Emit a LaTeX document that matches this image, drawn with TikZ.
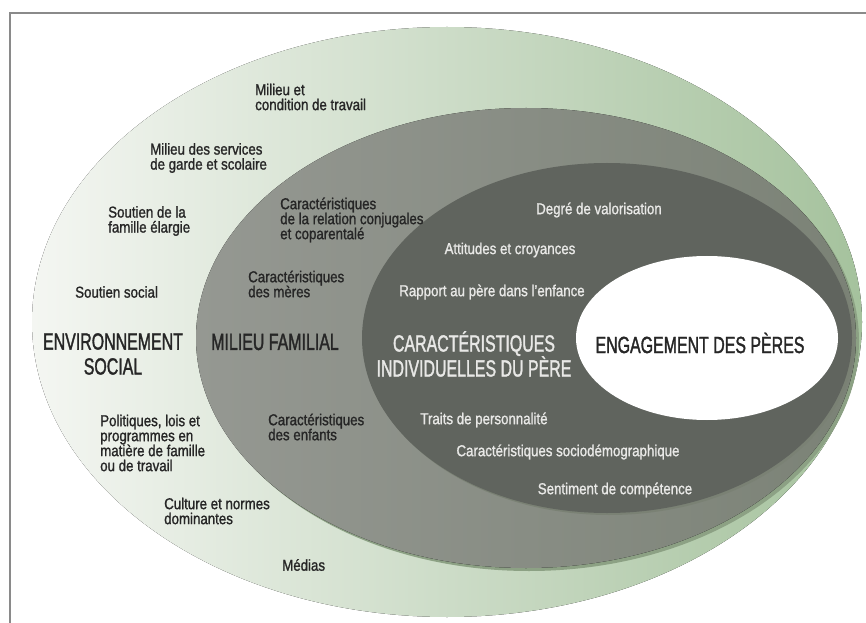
\documentclass[tikz,border=0pt]{standalone}
\usepackage{fontspec}
\setmainfont{Liberation Sans}[FakeStretch=0.84, FakeBold=1.2]
\newfontfamily\headfont{Liberation Sans}[FakeStretch=0.68, FakeBold=1.4]
\usetikzlibrary{positioning}
\definecolor{outerL}{HTML}{F4F6F2}
\definecolor{outerM}{HTML}{E0E9DC}
\definecolor{outerR}{HTML}{A5C29D}
\definecolor{midL}{HTML}{959892}
\definecolor{midR}{HTML}{7B8276}
\definecolor{midLip}{HTML}{8CA184}
\definecolor{darkFill}{HTML}{60645E}
\definecolor{darkLip}{HTML}{7A8174}
\definecolor{txtDark}{HTML}{262626}
\definecolor{txtLight}{HTML}{E8E8E6}
\definecolor{frameGray}{HTML}{8A8A8A}

\begin{document}
\begin{tikzpicture}[
		x=0.03cm, y=-0.03cm,
		lbl/.style = {align=left, anchor=west, inner sep=0pt, text=txtDark,% small dark labels
			font=\fontsize{13.5}{12.8}\selectfont},
		wlbl/.style = {inner sep=0pt, text=txtLight,% small labels on the dark ring
			font=\fontsize{13.5}{12.8}\selectfont},
		head/.style = {align=center, inner sep=0pt,% titles of the rings
			font=\headfont\fontsize{20}{21.3}\selectfont},
		]
		\useasboundingbox (0,0) rectangle (866,623);
		\draw[frameGray, line width=1.2pt] (10,623) -- (10,13) -- (866,13);
		% rings
		\fill[left color=outerL, middle color=outerM, right color=outerR] (447,322) ellipse (415 and 295);
		\fill[midLip] (529,341) ellipse (330 and 230);
		\fill[left color=midL, right color=midR] (526,338) ellipse (330 and 230);
		\fill[darkLip] (609,340) ellipse (245 and 175);
		\fill[darkFill] (607,338) ellipse (245 and 175);
		\fill[white] (707,338) ellipse (131 and 82);
		% titles
		\node[head, text=txtDark] (envSocial) at (113,354) {ENVIRONNEMENT\\SOCIAL};
		\node[head, text=txtDark] (milFamilial) at (275,342) {MILIEU FAMILIAL};
		\node[head, text=txtLight] (caracPere) at (474,354) {CARACTÉRISTIQUES\\INDIVIDUELLES DU PÈRE};
		\node[head, text=txtDark] (engagement) at (700,343) {ENGAGEMENT DES PÈRES};
		% environnement social
		\node[lbl] (travail) at (255,97) {Milieu et\\condition de travail};
		\node[lbl] (garde) at (150,158) {Milieu des services\\de garde et scolaire};
		\node[lbl] (famille) at (108,221) {Soutien de la\\famille élargie};
		\node[lbl] (soutien) at (75,292) {Soutien social};
		\node[lbl] (politiques) at (100,443) {Politiques, lois et\\programmes en\\matière de famille\\ou de travail};
		\node[lbl] (culture) at (164,511) {Culture et normes\\dominantes};
		\node[lbl] (medias) at (282,565) {Médias};
		% milieu familial
		\node[lbl] (conjugal) at (280,220) {Caractéristiques\\de la relation conjugales\\et coparentalé};
		\node[lbl] (meres) at (248,284) {Caractéristiques\\des mères};
		\node[lbl] (enfants) at (268,427) {Caractéristiques\\des enfants};
		% caracteristiques du pere
		\foreach \t/\x/\y [count=\i] in {Degré de valorisation/599/210,
			Attitudes et croyances/510/250,
			Rapport au père dans l’enfance/492/292,
			Traits de personnalité/484/420,
			Caractéristiques sociodémographique/568/452,
			Sentiment de compétence/615/490}
		\node[wlbl] (pere\i) at (\x,\y) {\t};
	\end{tikzpicture}
\end{document}
